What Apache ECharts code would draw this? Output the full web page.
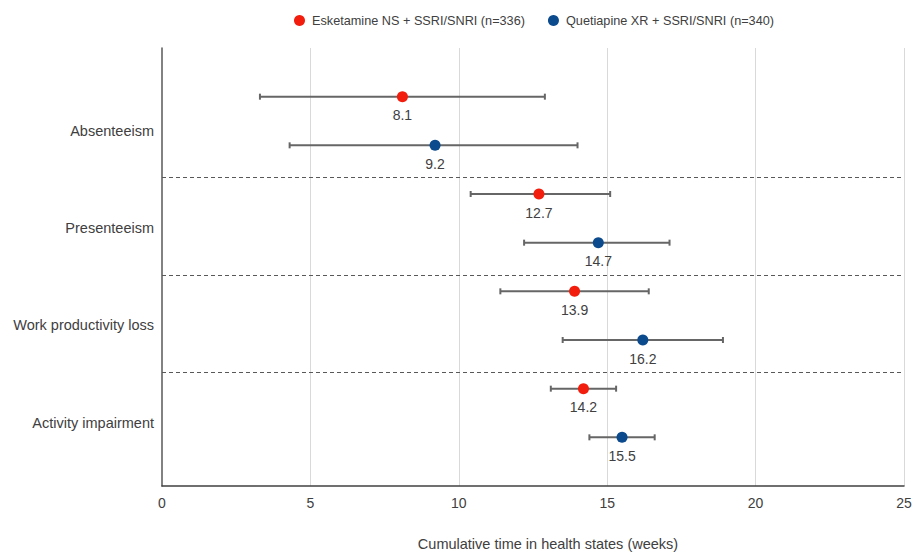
<!DOCTYPE html>
<html>
<head>
<meta charset="utf-8">
<script src="https://cdn.jsdelivr.net/npm/echarts@6/dist/echarts.min.js"></script>
<style>html,body{margin:0;padding:0;background:#fff}#c{width:915px;height:556px}</style>
</head>
<body>
<div id="c"></div>
<script>
// ---- data ----
const categories = ['Absenteeism', 'Presenteeism', 'Work productivity loss', 'Activity impairment'];
const seriesNames = ['Esketamine NS + SSRI/SNRI (n=336)', 'Quetiapine XR + SSRI/SNRI (n=340)'];
const esketMean = [8.1, 12.7, 13.9, 14.2];
const esketLow  = [3.3, 10.4, 11.4, 13.1];
const esketHigh = [12.9, 15.1, 16.4, 15.3];
const quetMean  = [9.2, 14.7, 16.2, 15.5];
const quetLow   = [4.3, 12.2, 13.5, 14.4];
const quetHigh  = [14.0, 17.1, 18.9, 16.6];
const xTicks = [0, 5, 10, 15, 20, 25];
const xTitle = 'Cumulative time in health states (weeks)';

// ---- layout (row positions on a hidden numeric y scale) ----
const n = categories.length;
const rowRed = categories.map((c, i) => n - i);          // 4,3,2,1
const rowBlue = rowRed.map(v => v - 0.5);
const labelPos = rowRed.map(v => +(v - 0.35).toFixed(2));
const sepPos = rowRed.slice(0, n - 1).map(v => +(v - 0.83).toFixed(2));

const FONT = '"Liberation Sans", Arial, sans-serif';
const TXT = '#404040';
const RED = '#F21D0C';
const BLUE = '#0B4A8C';

const errRed = esketLow.map((l, i) => [l, esketHigh[i], rowRed[i]]);
const errBlue = quetLow.map((l, i) => [l, quetHigh[i], rowBlue[i]]);

function renderErr(params, api) {
  const y = api.value(2);
  const a = api.coord([api.value(0), y]);
  const b = api.coord([api.value(1), y]);
  const h = 3;
  const st = { stroke: '#666666', lineWidth: 2 };
  return {
    type: 'group',
    children: [
      { type: 'line', shape: { x1: a[0], y1: a[1], x2: b[0], y2: b[1] }, style: st },
      { type: 'line', shape: { x1: a[0], y1: a[1] - h, x2: a[0], y2: a[1] + h }, style: st },
      { type: 'line', shape: { x1: b[0], y1: b[1] - h, x2: b[0], y2: b[1] + h }, style: st }
    ]
  };
}

const chart = echarts.init(document.getElementById('c'), null, { renderer: 'svg' });
chart.setOption({
  animation: false,
  textStyle: { fontFamily: FONT },
  legend: {
    top: 9, left: 289,
    icon: 'circle', itemWidth: 11, itemHeight: 11, itemGap: 23,
    data: seriesNames,
    textStyle: { fontSize: 12.7, color: TXT, fontFamily: FONT, padding: [0, 0, 0, 2] }
  },
  grid: { left: 162, right: 11, top: 48, bottom: 69 },
  xAxis: {
    type: 'value', min: 0, max: 25, interval: 5,
    axisLine: { show: true, lineStyle: { color: '#404040', width: 1.5 } },
    axisTick: { show: false },
    axisLabel: { color: TXT, fontSize: 14, margin: 10, fontFamily: FONT,
      formatter: v => xTicks.includes(v) ? String(v) : '' },
    splitLine: { show: true, showMinLine: false, lineStyle: { color: '#D9D9D9', width: 1 } },
    name: xTitle, nameLocation: 'middle', nameGap: 50,
    nameTextStyle: { color: TXT, fontSize: 14.5, fontFamily: FONT, padding: [0, 0, 0, 30] }
  },
  yAxis: {
    type: 'value', min: 0, max: 4.5,
    axisLine: { show: true, lineStyle: { color: '#595959', width: 1.5 } },
    axisTick: { show: true, inside: true, length: 4, customValues: sepPos, lineStyle: { color: '#7f7f7f' } },
    splitLine: { show: false },
    axisLabel: {
      show: true, customValues: labelPos, color: TXT, fontSize: 14.5, margin: 8, fontFamily: FONT,
      formatter: v => { const i = labelPos.findIndex(p => Math.abs(p - v) < 1e-6); return i >= 0 ? categories[i] : ''; }
    }
  },
  series: [
    { type: 'custom', name: 'errRed', renderItem: renderErr, data: errRed, z: 2, silent: true,
      encode: { x: [0, 1], y: 2 } },
    { type: 'custom', name: 'errBlue', renderItem: renderErr, data: errBlue, z: 2, silent: true,
      encode: { x: [0, 1], y: 2 } },
    {
      type: 'scatter', name: seriesNames[0], symbol: 'circle', symbolSize: 11, z: 5,
      itemStyle: { color: RED, opacity: 1 },
      data: esketMean.map((v, i) => [v, rowRed[i]]),
      label: { show: true, position: 'bottom', distance: 6, color: TXT, fontSize: 14, fontFamily: FONT,
        formatter: p => p.value[0].toFixed(1) },
      markLine: {
        silent: true, symbol: 'none',
        lineStyle: { type: [4, 3], color: '#595959', width: 1 },
        label: { show: false },
        data: sepPos.map(v => ({ yAxis: v }))
      }
    },
    {
      type: 'scatter', name: seriesNames[1], symbol: 'circle', symbolSize: 11, z: 5,
      itemStyle: { color: BLUE, opacity: 1 },
      data: quetMean.map((v, i) => [v, rowBlue[i]]),
      label: { show: true, position: 'bottom', distance: 6, color: TXT, fontSize: 14, fontFamily: FONT,
        formatter: p => p.value[0].toFixed(1) }
    }
  ]
});
</script>
</body>
</html>
